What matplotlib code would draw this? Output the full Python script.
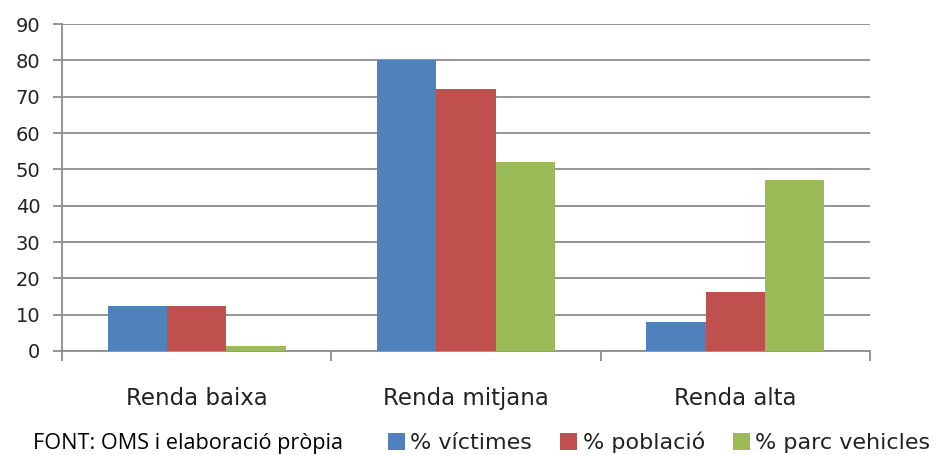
import numpy as np
from matplotlib import pyplot as plt

# Dades
categories = ['Renda baixa', 'Renda mitjana', 'Renda alta']
victimes = [12.4, 80, 8]
poblacio = [12.4, 72, 16.3]
parc_vehicles = [1.3, 52, 47]
series_labels = ['% víctimes', '% població', '% parc vehicles']
colors = ['#4F81BD', '#C0504D', '#9BBB59']

fig = plt.figure(figsize=(9.41, 4.55), dpi=100)
ax = fig.add_axes([0.0659, 0.2286, 0.8586, 0.7184])

x = np.arange(len(categories))
w = 0.22
bars = []
for i, (vals, c, lab) in enumerate(zip([victimes, poblacio, parc_vehicles], colors, series_labels)):
    bars.append(ax.bar(x + (i - 1) * w, vals, w, color=c, label=lab, zorder=3))

ax.set_xlim(-0.5, 2.5)
ax.set_ylim(0, 90)
ax.set_yticks(range(0, 91, 10))
ax.yaxis.grid(True, color='#8c8c8c', linewidth=1.3, zorder=0)

# Eixos
for s in ['top', 'right']:
    ax.spines[s].set_visible(False)
ax.spines['left'].set_color('#8c8c8c')
ax.spines['bottom'].set_color('#8c8c8c')
ax.spines['left'].set_linewidth(1.3)
ax.spines['bottom'].set_linewidth(1.3)
ax.tick_params(axis='y', length=6.5, width=1.3, color='#8c8c8c', labelsize=14,
               labelcolor='#222222', pad=9)

# Marques entre categories
ax.set_xticks([-0.5, 0.5, 1.5, 2.5])
ax.set_xticklabels([])
ax.tick_params(axis='x', length=7, width=1.3, color='#8c8c8c')
for xi, cat in zip(x, categories):
    ax.text(xi, -0.145, cat, transform=ax.get_xaxis_transform(), ha='center', va='center',
            fontsize=16.5, color='#222222')

# Peu i llegenda
fig.text(0.035, 0.026, 'FONT: OMS i elaboració pròpia', fontsize=15.6, family='Open Sans',
         color='#000000', va='center')
fig.legend(handles=bars, labels=series_labels, loc='center left', bbox_to_anchor=(0.412, 0.027),
           ncol=3, frameon=False, fontsize=16, handlelength=0.77, handleheight=0.77,
           handletextpad=0.25, columnspacing=1.25, labelcolor='#222222',
           borderpad=0, borderaxespad=0)

plt.savefig('out.png', dpi=100)
